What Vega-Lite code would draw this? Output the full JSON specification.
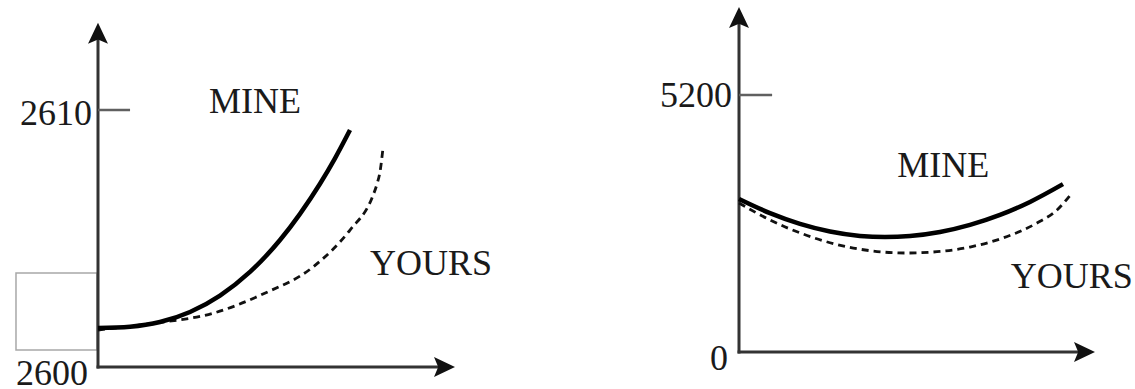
{
  "$schema": "https://vega.github.io/schema/vega-lite/v6.json",
  "padding": 0,
  "spacing": 0,
  "config": {
    "view": {"stroke": null},
    "text": {"font": "Liberation Serif", "fontSize": 36, "color": "#1a1a1a"}
  },
  "datasets": {
    "leftBox": [{"x": -2.278, "x2": -0.03, "y": 2600.66, "y2": 2603.66}],
    "leftAxes": [
      {"x": 0, "x2": 0, "y": 2599.94, "y2": 2612.9},
      {"x": -0.04, "x2": 9.6, "y": 2600, "y2": 2600}
    ],
    "leftTicks": [{"x": 0, "x2": 0.89, "y": 2610, "y2": 2610}],
    "leftUp": [{"x": 0, "y": 2612.99}],
    "leftRight": [{"x": 9.625, "y": 2600}],
    "leftCurves": [
      {"series": "MINE", "x": 0, "y": 2601.52},
      {"series": "MINE", "x": 0.889, "y": 2601.57},
      {"series": "MINE", "x": 1.722, "y": 2601.75},
      {"series": "MINE", "x": 2.556, "y": 2602.14},
      {"series": "MINE", "x": 3.389, "y": 2602.78},
      {"series": "MINE", "x": 4.222, "y": 2603.7},
      {"series": "MINE", "x": 5.056, "y": 2604.94},
      {"series": "MINE", "x": 5.611, "y": 2605.96},
      {"series": "MINE", "x": 6.167, "y": 2607.13},
      {"series": "MINE", "x": 6.583, "y": 2608.12},
      {"series": "MINE", "x": 7.0, "y": 2609.22},
      {"series": "YOURS", "x": 0, "y": 2601.44},
      {"series": "YOURS", "x": 1.583, "y": 2601.71},
      {"series": "YOURS", "x": 3.167, "y": 2602.08},
      {"series": "YOURS", "x": 4.583, "y": 2602.84},
      {"series": "YOURS", "x": 5.972, "y": 2603.89},
      {"series": "YOURS", "x": 7.0, "y": 2605.33},
      {"series": "YOURS", "x": 7.611, "y": 2606.58},
      {"series": "YOURS", "x": 7.75, "y": 2607.12},
      {"series": "YOURS", "x": 7.833, "y": 2607.59},
      {"series": "YOURS", "x": 7.917, "y": 2608.52}
    ],
    "leftTickLabels": [
      {"x": -0.17, "y": 2609.42, "label": "2610"},
      {"x": -0.28, "y": 2599.3, "label": "2600"}
    ],
    "leftSeriesLabels": [
      {"x": 4.36, "y": 2609.88, "label": "MINE"},
      {"x": 9.25, "y": 2603.58, "label": "YOURS"}
    ],
    "rightAxes": [
      {"x": 0, "x2": 0, "y": -30, "y2": 6740},
      {"x": -0.04, "x2": 9.68, "y": 0, "y2": 0}
    ],
    "rightTicks": [{"x": 0, "x2": 0.93, "y": 5200, "y2": 5200}],
    "rightUp": [{"x": 0, "y": 6768}],
    "rightRight": [{"x": 9.705, "y": 0}],
    "rightCurves": [
      {"series": "MINE", "x": 0, "y": 3096},
      {"series": "MINE", "x": 0.871, "y": 2810},
      {"series": "MINE", "x": 1.713, "y": 2592},
      {"series": "MINE", "x": 2.556, "y": 2438},
      {"series": "MINE", "x": 3.399, "y": 2349},
      {"series": "MINE", "x": 4.101, "y": 2327},
      {"series": "MINE", "x": 4.803, "y": 2347},
      {"series": "MINE", "x": 5.646, "y": 2428},
      {"series": "MINE", "x": 6.489, "y": 2572},
      {"series": "MINE", "x": 7.331, "y": 2774},
      {"series": "MINE", "x": 8.174, "y": 3037},
      {"series": "MINE", "x": 9.101, "y": 3397},
      {"series": "YOURS", "x": 0, "y": 3015},
      {"series": "YOURS", "x": 0.871, "y": 2671},
      {"series": "YOURS", "x": 1.798, "y": 2387},
      {"series": "YOURS", "x": 2.753, "y": 2175},
      {"series": "YOURS", "x": 3.68, "y": 2050},
      {"series": "YOURS", "x": 4.663, "y": 2003},
      {"series": "YOURS", "x": 5.562, "y": 2029},
      {"series": "YOURS", "x": 6.489, "y": 2124},
      {"series": "YOURS", "x": 7.416, "y": 2307},
      {"series": "YOURS", "x": 8.371, "y": 2610},
      {"series": "YOURS", "x": 8.933, "y": 2873},
      {"series": "YOURS", "x": 9.354, "y": 3217}
    ],
    "rightTickLabels": [
      {"x": -0.2, "y": 4957, "label": "5200"},
      {"x": -0.31, "y": -364, "label": "0"}
    ],
    "rightSeriesLabels": [
      {"x": 5.74, "y": 3541, "label": "MINE"},
      {"x": 9.35, "y": 1295, "label": "YOURS"}
    ]
  },
  "hconcat": [
    {
      "width": 560,
      "height": 389,
      "encoding": {
        "x": {"field": "x", "type": "quantitative", "axis": null,
              "scale": {"domain": [-2.7222, 12.8333], "nice": false, "zero": false}},
        "y": {"field": "y", "type": "quantitative", "axis": null,
              "scale": {"domain": [2599.144, 2614.28], "nice": false, "zero": false}}
      },
      "layer": [
        {
          "data": {"name": "leftBox"},
          "mark": {"type": "rect", "fill": "transparent", "stroke": "#a8a8a8", "strokeWidth": 1.5},
          "encoding": {"x2": {"field": "x2"}, "y2": {"field": "y2"}}
        },
        {
          "data": {"name": "leftAxes"},
          "mark": {"type": "rule", "color": "#333333", "strokeWidth": 3},
          "encoding": {"x2": {"field": "x2"}, "y2": {"field": "y2"}}
        },
        {
          "data": {"name": "leftTicks"},
          "mark": {"type": "rule", "color": "#606060", "strokeWidth": 2.5},
          "encoding": {"x2": {"field": "x2"}, "y2": {"field": "y2"}}
        },
        {
          "data": {"name": "leftUp"},
          "mark": {"type": "point", "shape": "M0,-1L0.95,1L0,0.6L-0.95,1Z", "filled": true,
                   "color": "#111111", "opacity": 1, "size": 441, "angle": 0}
        },
        {
          "data": {"name": "leftRight"},
          "mark": {"type": "point", "shape": "M0,-1L0.95,1L0,0.6L-0.95,1Z", "filled": true,
                   "color": "#111111", "opacity": 1, "size": 441, "angle": 90}
        },
        {
          "data": {"name": "leftCurves"},
          "transform": [{"filter": "datum.series === 'YOURS'"}],
          "mark": {"type": "line", "color": "#111111", "strokeWidth": 2.8, "strokeDash": [7, 5], "interpolate": "monotone"}
        },
        {
          "data": {"name": "leftCurves"},
          "transform": [{"filter": "datum.series === 'MINE'"}],
          "mark": {"type": "line", "color": "#000000", "strokeWidth": 4.5, "interpolate": "monotone"}
        },
        {
          "data": {"name": "leftTickLabels"},
          "mark": {"type": "text", "align": "right", "baseline": "alphabetic"},
          "encoding": {"text": {"field": "label"}}
        },
        {
          "data": {"name": "leftSeriesLabels"},
          "mark": {"type": "text", "align": "center", "baseline": "alphabetic"},
          "encoding": {"text": {"field": "label"}}
        }
      ]
    },
    {
      "width": 575,
      "height": 389,
      "encoding": {
        "x": {"field": "x", "type": "quantitative", "axis": null,
              "scale": {"domain": [-5.0281, 11.1236], "nice": false, "zero": false}},
        "y": {"field": "y", "type": "quantitative", "axis": null,
              "scale": {"domain": [-748.6, 7122.2], "nice": false, "zero": false}}
      },
      "layer": [
        {
          "data": {"name": "rightAxes"},
          "mark": {"type": "rule", "color": "#333333", "strokeWidth": 3},
          "encoding": {"x2": {"field": "x2"}, "y2": {"field": "y2"}}
        },
        {
          "data": {"name": "rightTicks"},
          "mark": {"type": "rule", "color": "#606060", "strokeWidth": 2.5},
          "encoding": {"x2": {"field": "x2"}, "y2": {"field": "y2"}}
        },
        {
          "data": {"name": "rightUp"},
          "mark": {"type": "point", "shape": "M0,-1L0.95,1L0,0.6L-0.95,1Z", "filled": true,
                   "color": "#111111", "opacity": 1, "size": 441, "angle": 0}
        },
        {
          "data": {"name": "rightRight"},
          "mark": {"type": "point", "shape": "M0,-1L0.95,1L0,0.6L-0.95,1Z", "filled": true,
                   "color": "#111111", "opacity": 1, "size": 441, "angle": 90}
        },
        {
          "data": {"name": "rightCurves"},
          "transform": [{"filter": "datum.series === 'YOURS'"}],
          "mark": {"type": "line", "color": "#111111", "strokeWidth": 2.8, "strokeDash": [7, 5], "interpolate": "monotone"}
        },
        {
          "data": {"name": "rightCurves"},
          "transform": [{"filter": "datum.series === 'MINE'"}],
          "mark": {"type": "line", "color": "#000000", "strokeWidth": 4.5, "interpolate": "monotone"}
        },
        {
          "data": {"name": "rightTickLabels"},
          "mark": {"type": "text", "align": "right", "baseline": "alphabetic"},
          "encoding": {"text": {"field": "label"}}
        },
        {
          "data": {"name": "rightSeriesLabels"},
          "mark": {"type": "text", "align": "center", "baseline": "alphabetic"},
          "encoding": {"text": {"field": "label"}}
        }
      ]
    }
  ]
}
